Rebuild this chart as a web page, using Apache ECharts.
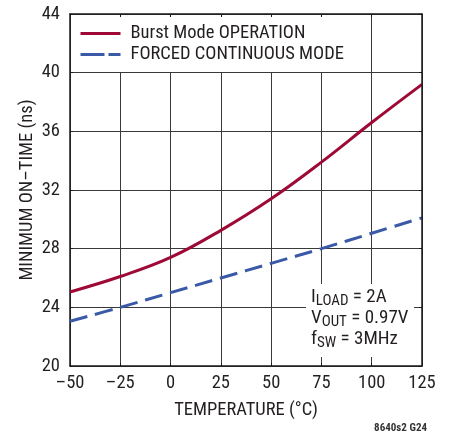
<!DOCTYPE html>
<html>
<head>
<meta charset="utf-8">
<script src="https://cdn.jsdelivr.net/npm/echarts@6/dist/echarts.min.js"></script>
<style>html,body{margin:0;padding:0;background:#fff;}#c{width:453px;height:438px;}</style>
</head>
<body>
<div id="c"></div>
<script>
var temps = [-50, -25, 0, 25, 50, 75, 100, 125];
var burstMode = [25.05, 26.1, 27.4, 29.25, 31.4, 33.9, 36.6, 39.2];
var forcedContinuous = [23.05, 24.0, 25.0, 26.0, 27.0, 28.0, 29.05, 30.1];
var xTickLabels = ['–50', '–25', '0', '25', '50', '75', '100', '125'];
var yTickLabels = ['20', '24', '28', '32', '36', '40', '44'];
var seriesNames = ['Burst Mode OPERATION', 'FORCED CONTINUOUS MODE'];

var FONT = '"Roboto Condensed", "Liberation Sans", sans-serif';
var TXT = '#231f20';
var RED = '#9e0a35';
var BLUE = '#3a5aa8';

function pairs(xs, ys) { return xs.map(function (x, i) { return [x, ys[i]]; }); }

var frameLine = {show: true, onZero: false, lineStyle: {color: '#1a1a1a', width: 1.5}};
var tick = {show: true, inside: true, length: 3, lineStyle: {color: '#1a1a1a'}};

var chart = echarts.init(document.getElementById('c'), null, {renderer: 'canvas'});
chart.setOption({
  animation: false,
  backgroundColor: '#fff',
  textStyle: {fontFamily: FONT},
  grid: {left: 70, right: 31, top: 14, bottom: 72, containLabel: false},
  xAxis: [{
    type: 'value', min: -50, max: 125, interval: 25, position: 'bottom', z: 0,
    name: 'TEMPERATURE (°C)', nameLocation: 'middle', nameGap: 35, nameMoveOverlap: false,
    nameTextStyle: {fontFamily: FONT, fontSize: 18.5, color: TXT},
    axisLine: frameLine, axisTick: tick,
    axisLabel: {fontFamily: FONT, fontSize: 18.5, color: TXT, margin: 8,
      formatter: function (v) { return xTickLabels[temps.indexOf(v)]; }},
    splitLine: {show: true, lineStyle: {color: '#3a3a3a', width: 1}}
  }, {
    type: 'value', min: -50, max: 125, interval: 25, position: 'top', z: 3,
    axisLine: frameLine, axisTick: tick,
    axisLabel: {show: false}, splitLine: {show: false}
  }],
  yAxis: [{
    type: 'value', min: 20, max: 44, interval: 4, position: 'left', z: 0,
    name: 'MINIMUM ON–TIME (ns)', nameLocation: 'middle', nameGap: 33, nameRotate: 90, nameMoveOverlap: false,
    nameTextStyle: {fontFamily: FONT, fontSize: 18.5, color: TXT},
    axisLine: frameLine, axisTick: tick,
    axisLabel: {fontFamily: FONT, fontSize: 18.5, color: TXT, margin: 10,
      formatter: function (v) { return yTickLabels[(v - 20) / 4]; }},
    splitLine: {show: true, lineStyle: {color: '#3a3a3a', width: 1}}
  }, {
    type: 'value', min: 20, max: 44, interval: 4, position: 'right', z: 3,
    axisLine: frameLine, axisTick: tick,
    axisLabel: {show: false}, splitLine: {show: false}
  }],
  legend: {
    orient: 'vertical', left: 79, top: 23, padding: 0,
    itemWidth: 40, itemHeight: 14, itemGap: 0,
    itemStyle: {opacity: 0},
    lineStyle: {width: 3},
    textStyle: {fontFamily: FONT, fontSize: 18.5, color: TXT, lineHeight: 21, padding: [0, 0, 0, 5]},
    data: [
      {name: seriesNames[0], lineStyle: {width: 3, type: 'solid'}},
      {name: seriesNames[1], lineStyle: {width: 3, type: [24, 4]}}
    ]
  },
  graphic: [
    {type: 'rect', z: 1, shape: {x: 71, y: 15, width: 297, height: 57}, style: {fill: '#fff'}, silent: true},
    {type: 'rect', z: 1, shape: {x: 306, y: 284, width: 108, height: 73}, style: {fill: '#fff'}, silent: true},
    {type: 'text', z: 5, left: 311, top: 286, style: {
      text: '{m|I}{s|LOAD}{m| = 2A}\n{m|V}{s|OUT}{m| = 0.97V}\n{m|f}{s|SW}{m| = 3MHz}',
      fontFamily: FONT, fill: TXT,
      rich: {
        m: {fontFamily: FONT, fontSize: 19, color: TXT, lineHeight: 21, verticalAlign: 'middle'},
        s: {fontFamily: FONT, fontSize: 15, color: TXT, lineHeight: 21, padding: [8, 0, 0, 0], verticalAlign: 'middle'}
      }
    }},
    {type: 'text', z: 5, right: 26, top: 423, style: {
      text: '8640s2 G24', fontFamily: FONT, fontSize: 11, fontWeight: 'bold', fill: '#333'
    }}
  ],
  series: [{
    name: seriesNames[0], type: 'line', smooth: 0.4, symbol: 'none', z: 2,
    data: pairs(temps, burstMode),
    itemStyle: {color: RED},
    lineStyle: {color: RED, width: 3}
  }, {
    name: seriesNames[1], type: 'line', smooth: 0.4, symbol: 'none', z: 2,
    data: pairs(temps, forcedContinuous),
    itemStyle: {color: BLUE},
    lineStyle: {color: BLUE, width: 3, type: [18, 8]}
  }]
});
</script>
</body>
</html>
